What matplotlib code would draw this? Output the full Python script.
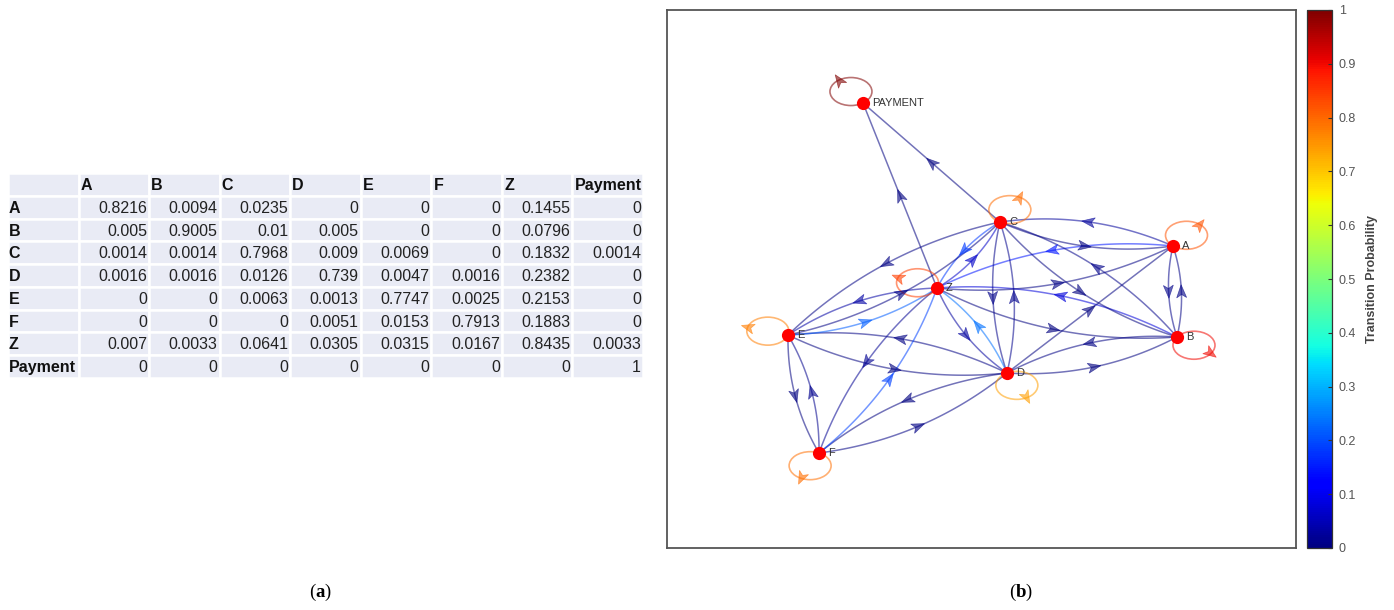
import numpy as np
import matplotlib
matplotlib.use("Agg")
import matplotlib.pyplot as plt
from matplotlib.patches import Rectangle, Ellipse, Polygon
from matplotlib import colors

plt.rcParams['mathtext.fontset'] = 'custom'
plt.rcParams['mathtext.rm'] = 'Liberation Serif'
plt.rcParams['mathtext.bf'] = 'Liberation Serif:bold'
plt.rcParams['font.family'] = ['Liberation Sans', 'DejaVu Sans']

# transition matrix (rows = from, columns = to)
states = ['A', 'B', 'C', 'D', 'E', 'F', 'Z', 'Payment']
P = np.array([
    [0.8216, 0.0094, 0.0235, 0,      0,      0,      0.1455, 0],
    [0.005,  0.9005, 0.01,   0.005,  0,      0,      0.0796, 0],
    [0.0014, 0.0014, 0.7968, 0.009,  0.0069, 0,      0.1832, 0.0014],
    [0.0016, 0.0016, 0.0126, 0.739,  0.0047, 0.0016, 0.2382, 0],
    [0,      0,      0.0063, 0.0013, 0.7747, 0.0025, 0.2153, 0],
    [0,      0,      0,      0.0051, 0.0153, 0.7913, 0.1883, 0],
    [0.007,  0.0033, 0.0641, 0.0305, 0.0315, 0.0167, 0.8435, 0.0033],
    [0,      0,      0,      0,      0,      0,      0,      1],
])

# graph layout (node positions) and node names
node_names = ['A', 'B', 'C', 'D', 'E', 'F', 'Z', 'PAYMENT']
node_x = [506, 510, 333, 340, 121, 152, 270, 196]
node_y = [302, 211, 326, 175, 213, 95, 260, 445]
loop_angle = [50, -36, 62, -62, 164, -115, 158, 125]

W, H = 1394, 610
fig = plt.figure(figsize=(W / 100, H / 100), dpi=100)


def fbox(x0, y0, x1, y1):
    return [x0 / W, 1 - y1 / H, (x1 - x0) / W, (y1 - y0) / H]


# ---------------- (a) table ----------------
tax = fig.add_axes(fbox(8, 173, 643, 378))
tax.set_xlim(0, 9)
tax.set_ylim(9, 0)
tax.axis('off')
cell_bg = '#E9EBF5'
for r in range(9):
    for c in range(9):
        tax.add_patch(Rectangle((c, r), 1, 1, facecolor=cell_bg,
                                edgecolor='white', lw=1.8))
        if r == 0 and c == 0:
            continue
        if r == 0:
            tax.text(c + 0.03, r + 0.55, states[c - 1], ha='left', va='center',
                     fontsize=11.5, fontweight='bold', color='#111111')
        elif c == 0:
            tax.text(c + 0.01, r + 0.55, states[r - 1], ha='left', va='center',
                     fontsize=11.5, fontweight='bold', color='#111111')
        else:
            tax.text(c + 0.97, r + 0.55, f"{P[r - 1, c - 1]:g}", ha='right',
                     va='center', fontsize=11.5, color='#222222')

# ---------------- (b) graph ----------------
gax = fig.add_axes(fbox(667, 10, 1296, 548))
gax.set_xlim(0, 629)
gax.set_ylim(0, 538)
gax.set_xticks([])
gax.set_yticks([])
for s in gax.spines.values():
    s.set_color('#555555')
    s.set_linewidth(1.3)

cmap = matplotlib.colormaps['jet']
alpha = 0.5
rad = 0.14
L, Wd = 13.0, 10.0


def arrow_head(x, y, ux, uy, col):
    vx, vy = -uy, ux
    pts = [(L / 2, 0), (-L / 2, Wd / 2), (-L / 4, 0), (-L / 2, -Wd / 2)]
    poly = [(x + a * ux + b * vx, y + a * uy + b * vy) for a, b in pts]
    gax.add_patch(Polygon(poly, closed=True, facecolor=col, edgecolor=col,
                          lw=0.5, alpha=alpha + 0.1, zorder=3))


n = len(states)
t = np.linspace(0, 1, 60)
for i in range(n):
    for j in range(n):
        if i == j or P[i, j] <= 0:
            continue
        col = cmap(P[i, j])
        x0, y0 = node_x[i], node_y[i]
        x2, y2 = node_x[j], node_y[j]
        dx, dy = x2 - x0, y2 - y0
        f = rad if P[j, i] > 0 else 0.0
        cx, cy = (x0 + x2) / 2 + f * dy, (y0 + y2) / 2 - f * dx
        bx = (1 - t) ** 2 * x0 + 2 * (1 - t) * t * cx + t ** 2 * x2
        by = (1 - t) ** 2 * y0 + 2 * (1 - t) * t * cy + t ** 2 * y2
        gax.plot(bx, by, color=col, lw=1.1, alpha=alpha + 0.05, zorder=2,
                 solid_capstyle='round')
        d = np.hypot(dx, dy)
        mx = 0.25 * x0 + 0.5 * cx + 0.25 * x2
        my = 0.25 * y0 + 0.5 * cy + 0.25 * y2
        arrow_head(mx, my, dx / d, dy / d, col)

# self loops
la, lb = 21, 14
for i in range(n):
    col = cmap(P[i, i])
    th = np.deg2rad(loop_angle[i])
    ex = node_x[i] + la * np.cos(th)
    ey = node_y[i] + lb * np.sin(th)
    gax.add_patch(Ellipse((ex, ey), 2 * la, 2 * lb, facecolor='none',
                          edgecolor=col, lw=1.2, alpha=alpha + 0.05, zorder=2))
    fx = ex + la * np.cos(th)
    fy = ey + lb * np.sin(th)
    arrow_head(fx, fy, np.cos(th), np.sin(th), col)

gax.plot(node_x, node_y, 'o', color='#FF0000', markersize=9.5, zorder=5,
         markeredgewidth=0)
for k in range(n):
    gax.text(node_x[k] + 9, node_y[k], node_names[k], ha='left', va='center',
             fontsize=8, color='#333333', zorder=6)

# colorbar
cax = fig.add_axes(fbox(1307, 10, 1332, 548))
cb = matplotlib.colorbar.ColorbarBase(cax, cmap=cmap,
                                      norm=colors.Normalize(0, 1),
                                      ticks=np.arange(0, 1.01, 0.1))
cb.ax.set_yticklabels(['0', '0.1', '0.2', '0.3', '0.4', '0.5', '0.6', '0.7',
                       '0.8', '0.9', '1'])
cb.ax.tick_params(direction='in', length=3, width=0.8, labelsize=9,
                  labelcolor='#555555', color='#333333', pad=5)
cb.outline.set_edgecolor('#333333')
cb.outline.set_linewidth(0.9)
cb.set_label('Transition Probability', fontsize=9, fontweight='bold',
             color='#444444', labelpad=7)

# captions
fig.text(320 / W, 1 - 592 / H, r'($\mathbf{a}$)', ha='center', va='center',
         fontsize=13.5, family='Liberation Serif')
fig.text(1021 / W, 1 - 592 / H, r'($\mathbf{b}$)', ha='center', va='center',
         fontsize=13.5, family='Liberation Serif')

fig.savefig('out.png', dpi=100)
